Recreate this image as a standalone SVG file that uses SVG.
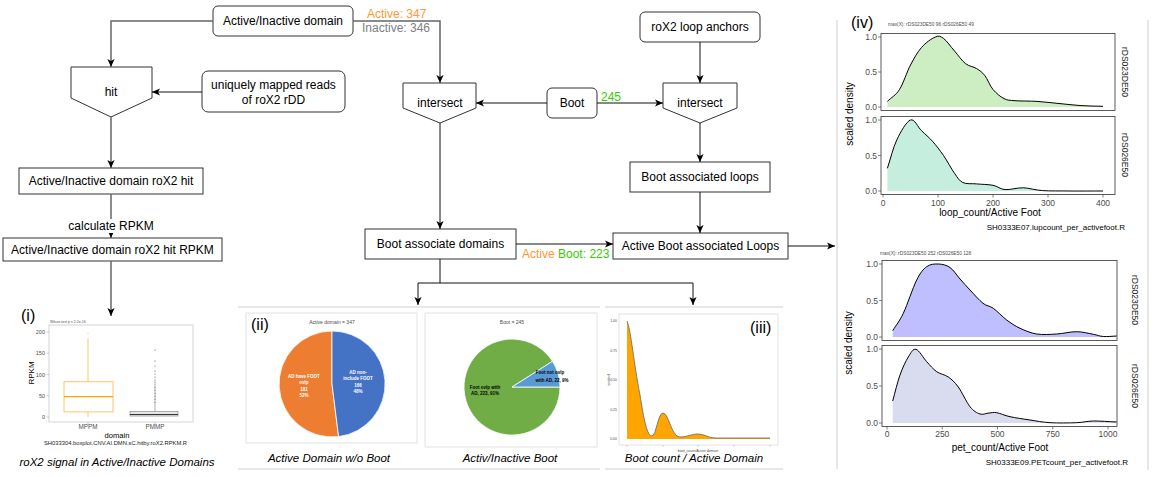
<svg xmlns="http://www.w3.org/2000/svg" width="1157" height="477" viewBox="0 0 1157 477">
<defs>
<style>
.node{fill:#fff;stroke:#333;stroke-width:1}
.lbl{font-family:"Liberation Sans",Arial,sans-serif;font-size:12px;fill:#000;text-anchor:middle;dominant-baseline:central}
.conn{fill:none;stroke:#111;stroke-width:1}
.connG{fill:none;stroke:#666;stroke-width:1.5}
.sep{stroke:#cfcfcf;stroke-width:1;fill:none}
.cap{font-family:"Liberation Sans",Arial,sans-serif;font-size:11.5px;font-style:italic;fill:#000;text-anchor:middle}
.tag{font-family:"Liberation Sans",Arial,sans-serif;font-size:16px;fill:#000}
.t{font-family:"Liberation Sans",Arial,sans-serif;fill:#4d4d4d}
.tk{font-family:"Liberation Sans",Arial,sans-serif;font-size:8.5px;fill:#4d4d4d}
.ax{font-family:"Liberation Sans",Arial,sans-serif;font-size:10px;fill:#000;text-anchor:middle}
.strip{font-family:"Liberation Sans",Arial,sans-serif;font-size:8.5px;fill:#1a1a1a;text-anchor:middle}
.panel{fill:#fff;stroke:#333;stroke-width:0.8}
.curve{fill:none;stroke:#000;stroke-width:1}
.pl{font-family:"Liberation Sans",Arial,sans-serif;font-size:4.5px;font-weight:bold;text-anchor:middle}
</style>
<marker id="arr" viewBox="0 0 10 10" refX="10" refY="5" markerWidth="8" markerHeight="8" markerUnits="userSpaceOnUse" orient="auto"><path d="M0,0.5 L10,5 L0,9.5 L2.5,5 z" fill="#000"/></marker>
</defs>
<rect width="1157" height="477" fill="#fff"/>

<!-- separators -->
<g id="separators">
<line class="sep" x1="238" y1="307" x2="600" y2="307"/>
<line class="sep" x1="605" y1="307" x2="783" y2="307"/>
<line class="sep" x1="238" y1="469" x2="600" y2="469"/>
<line class="sep" x1="605" y1="469" x2="783" y2="469"/>
<line class="sep" x1="837" y1="20" x2="837" y2="469"/>
<line class="sep" x1="1148" y1="20" x2="1148" y2="470"/>
</g>

<!-- nodes -->
<g id="n-active-inactive-domain"><rect class="node" x="213" y="6" width="140" height="30" rx="5"/><text class="lbl" x="283" y="21">Active/Inactive domain</text></g>
<g id="n-hit"><polygon class="node" points="71,67 152,67 152,98 111,117 71,98"/><text class="lbl" x="111" y="92">hit</text></g>
<g id="n-unique-reads"><rect class="node" x="202" y="71" width="143" height="41" rx="6"/><text class="lbl" x="273.5" y="85">uniquely mapped reads</text><text class="lbl" x="273.5" y="99.5">of roX2 rDD</text></g>
<g id="n-domain-hit"><rect class="node" x="19" y="168" width="184" height="26"/><text class="lbl" x="111" y="181">Active/Inactive domain roX2 hit</text></g>
<g id="n-domain-hit-rpkm"><rect class="node" x="3" y="238" width="219" height="23"/><text class="lbl" x="112.5" y="249.5">Active/Inactive domain roX2 hit RPKM</text></g>
<g id="n-intersect-left"><polygon class="node" points="403,83 476,83 476,108 440,123 403,108"/><text class="lbl" x="440" y="103">intersect</text></g>
<g id="n-boot"><rect class="node" x="547" y="88" width="50" height="30" rx="5"/><text class="lbl" x="572" y="103">Boot</text></g>
<g id="n-loop-anchors"><rect class="node" x="640" y="12" width="120" height="30" rx="5"/><text class="lbl" x="700" y="27">roX2 loop anchors</text></g>
<g id="n-intersect-right"><polygon class="node" points="663,83 737,83 737,108 700,123 663,108"/><text class="lbl" x="700" y="103">intersect</text></g>
<g id="n-boot-loops"><rect class="node" x="630" y="162" width="140" height="30"/><text class="lbl" x="700" y="177">Boot associated loops</text></g>
<g id="n-active-boot-loops"><rect class="node" x="613" y="233" width="175" height="26"/><text class="lbl" x="700.5" y="246">Active Boot associated Loops</text></g>
<g id="n-boot-domains"><rect class="node" x="365" y="229" width="151" height="30"/><text class="lbl" x="440.5" y="244">Boot associate domains</text></g>

<!-- connectors -->
<g id="connectors">
<path class="connG" d="M213,21 H111 V67" marker-end="url(#arr)"/>
<path class="connG" d="M353,21 H440 V83" marker-end="url(#arr)"/>
<path class="conn" d="M202,92 H152" marker-end="url(#arr)"/>
<path class="connG" d="M111,117 V168" marker-end="url(#arr)"/>
<path class="connG" d="M111,194 V238" marker-end="url(#arr)"/>
<rect x="68" y="219" width="86" height="14" fill="#fff"/>
<text class="lbl" x="111" y="226">calculate RPKM</text>
<path class="connG" d="M111,261 V316" marker-end="url(#arr)"/>
<path class="conn" d="M547,103 H476" marker-end="url(#arr)"/>
<path class="conn" d="M597,103 H663" marker-end="url(#arr)"/>
<path class="conn" d="M700,42 V83" marker-end="url(#arr)"/>
<path class="conn" d="M440,123 V229" marker-end="url(#arr)"/>
<path class="conn" d="M700,123 V162" marker-end="url(#arr)"/>
<path class="conn" d="M700,192 V233" marker-end="url(#arr)"/>
<path class="conn" d="M516,244 H613" marker-end="url(#arr)"/>
<path class="conn" d="M788,246 H835" marker-end="url(#arr)"/>
<path class="conn" d="M440,259 V283 M418,283 H693"/>
<path class="conn" d="M418,283 V305" marker-end="url(#arr)"/>
<path class="conn" d="M693,283 V305" marker-end="url(#arr)"/>
<text x="367" y="17.5" font-family="Liberation Sans, Arial, sans-serif" font-size="12" fill="#FF9933">Active: 347</text>
<text x="362" y="32" font-family="Liberation Sans, Arial, sans-serif" font-size="12" fill="#808080">Inactive: 346</text>
<text x="601" y="100.5" font-family="Liberation Sans, Arial, sans-serif" font-size="12" fill="#33CC00">245</text>
<text x="522" y="257.5" font-family="Liberation Sans, Arial, sans-serif" font-size="12"><tspan fill="#FF9933">Active</tspan><tspan fill="#33CC00"> Boot: 223</tspan></text>
</g>

<!-- (i) boxplot -->
<g id="fig-i">
<text class="tag" x="21" y="321">(i)</text>
<text class="t" x="50" y="323" font-size="3.5">Wilcox.test p &lt; 2.2e-16</text>
<rect x="49" y="325" width="144" height="97" fill="#fff" stroke="#d4d4d4" stroke-width="1"/>
<g class="t" font-size="5.5" text-anchor="end">
<text x="45" y="334">200</text><text x="45" y="355">150</text><text x="45" y="376.5">100</text><text x="45" y="398">50</text><text x="45" y="419">0</text>
</g>
<g stroke="#999" stroke-width="0.5"><line x1="46.5" y1="332" x2="49" y2="332"/><line x1="46.5" y1="353.25" x2="49" y2="353.25"/><line x1="46.5" y1="374.5" x2="49" y2="374.5"/><line x1="46.5" y1="395.75" x2="49" y2="395.75"/><line x1="46.5" y1="417" x2="49" y2="417"/><line x1="88" y1="422" x2="88" y2="424"/><line x1="155" y1="422" x2="155" y2="424"/></g>
<text x="34" y="373" font-family="Liberation Sans, Arial, sans-serif" font-size="8" fill="#000" text-anchor="middle" transform="rotate(-90 34 373)">RPKM</text>
<line x1="88" y1="338.4" x2="88" y2="381.7" stroke="#FFC266" stroke-width="1"/>
<line x1="88" y1="411.9" x2="88" y2="417" stroke="#FFC266" stroke-width="1"/>
<rect x="64" y="381.7" width="49" height="30.2" fill="#fff" stroke="#FFC266" stroke-width="1"/>
<line x1="64" y1="396.6" x2="113" y2="396.6" stroke="#FFA500" stroke-width="1.2"/>
<circle cx="88" cy="333.3" r="0.6" fill="#FFC266"/>
<line x1="155" y1="405" x2="155" y2="411.5" stroke="#999" stroke-width="0.8"/>
<rect x="130" y="411.5" width="48" height="4.5" fill="#e6e6e6" stroke="#999" stroke-width="0.8"/>
<line x1="130" y1="414.5" x2="178" y2="414.5" stroke="#333" stroke-width="1.2"/>
<g fill="#444">
<circle cx="155" cy="404" r="0.55"/><circle cx="155" cy="402.5" r="0.55"/><circle cx="155" cy="401" r="0.55"/><circle cx="155" cy="399.5" r="0.55"/><circle cx="155" cy="398" r="0.55"/><circle cx="155" cy="396.5" r="0.55"/><circle cx="155" cy="395" r="0.55"/><circle cx="155" cy="393.5" r="0.55"/><circle cx="155" cy="392" r="0.55"/><circle cx="155" cy="390.5" r="0.55"/><circle cx="155" cy="389" r="0.55"/><circle cx="155" cy="387.5" r="0.55"/><circle cx="155" cy="386" r="0.55"/><circle cx="155" cy="384" r="0.55"/><circle cx="155" cy="382" r="0.55"/><circle cx="155" cy="380" r="0.55"/><circle cx="155" cy="377" r="0.55"/><circle cx="155" cy="374" r="0.55"/><circle cx="155" cy="371" r="0.55"/><circle cx="155" cy="366" r="0.55"/><circle cx="155" cy="361" r="0.55"/><circle cx="155" cy="350" r="0.55"/>
</g>
<g class="t" font-size="6.3" text-anchor="middle"><text x="88" y="429">MPPM</text><text x="155" y="429">PMMP</text></g>
<text x="117" y="437.5" font-family="Liberation Sans, Arial, sans-serif" font-size="7.6" fill="#000" text-anchor="middle">domain</text>
<text x="115.5" y="445" font-family="Liberation Sans, Arial, sans-serif" font-size="5.8" fill="#222" text-anchor="middle">SH033304.boxplot.CNV.AI.DMN.sC.hitby.roX2.RPKM.R</text>
<text class="cap" x="117" y="466" font-size="12">roX2 signal in Active/Inactive Domains</text>
</g>

<!-- (ii) pies -->
<g id="fig-ii">
<rect x="246" y="313" width="171" height="130" fill="#fff" stroke="#e2e2e2" stroke-width="1"/>
<text class="tag" x="251" y="330">(ii)</text>
<text class="t" x="332" y="323.5" font-size="5" fill="#777" text-anchor="middle">Active domain = 347</text>
<path d="M332,384 L338.6,436.6 A53,53 0 1,1 332,331 Z" fill="#ED7D31" stroke="#fff" stroke-width="0.8"/>
<path d="M332,384 L332,331 A53,53 0 0,1 338.6,436.6 Z" fill="#4472C4" stroke="#fff" stroke-width="0.8"/>
<g class="pl" fill="#fff">
<text x="304" y="378">AD have FOOT</text><text x="304" y="384.3">ovlp</text><text x="304" y="390.6">181</text><text x="304" y="396.9">52%</text>
<text x="358" y="374">AD non-</text><text x="358" y="380.3">include FOOT</text><text x="358" y="386.6">166</text><text x="358" y="392.9">48%</text>
</g>
<rect x="425" y="313" width="172" height="134" fill="#fff" stroke="#e2e2e2" stroke-width="1"/>
<text class="t" x="512" y="323.5" font-size="5" fill="#777" text-anchor="middle">Boot = 245</text>
<path d="M512,387 L552.5,361.3 A48,48 0 1,0 560,387 Z" fill="#70AD47" stroke="#fff" stroke-width="0.8"/>
<path d="M512,387 L560,387 A48,48 0 0,0 552.5,361.3 Z" fill="#5B9BD5" stroke="#fff" stroke-width="0.8"/>
<g class="pl" fill="#000">
<text x="550" y="374">Foot not ovlp</text><text x="552" y="381.5">with AD, 22, 9%</text>
<text x="485" y="389">Foot ovlp with</text><text x="485" y="395">AD, 223, 91%</text>
</g>
<text class="cap" x="329" y="462">Active Domain w/o Boot</text>
<text class="cap" x="510" y="462">Activ/Inactive Boot</text>
</g>

<!-- (iii) density -->
<g id="fig-iii">
<rect x="619" y="314" width="159" height="131" fill="#fff" stroke="#e2e2e2" stroke-width="1"/>
<path d="M627,439 L627,321 C631,330 634,365 640,395 C644,420 647,436 652,436 C656,436 658,413 663,413 C668,413 671,432 677,436 C683,439 690,434 698,434 C705,434 708,438 715,438 L770,438 L770,439 Z" fill="#FFA500"/>
<path d="M627,321 C631,330 634,365 640,395 C644,420 647,436 652,436 C656,436 658,413 663,413 C668,413 671,432 677,436 C683,439 690,434 698,434 C705,434 708,438 715,438 L770,438" fill="none" stroke="#666" stroke-width="0.8"/>
<g class="t" font-size="3.5" text-anchor="end"><text x="617" y="322">1.00</text><text x="617" y="352">0.75</text><text x="617" y="381">0.50</text><text x="617" y="411">0.25</text><text x="617" y="440">0.00</text></g>
<g stroke="#999" stroke-width="0.4"><line x1="627" y1="445" x2="627" y2="447"/><line x1="663" y1="445" x2="663" y2="447"/><line x1="698" y1="445" x2="698" y2="447"/><line x1="734" y1="445" x2="734" y2="447"/><line x1="770" y1="445" x2="770" y2="447"/></g>
<text class="t" x="610" y="380" font-size="4" text-anchor="middle" transform="rotate(-90 610 380)">scaled</text>
<text class="t" x="698" y="452" font-size="3.5" text-anchor="middle">boot_count/Active domain</text>
<text class="tag" x="750" y="333" font-size="15">(iii)</text>
<text class="cap" x="694" y="462">Boot count / Active Domain</text>
</g>

<!-- (iv) densities -->
<g id="fig-iv">
<text class="tag" x="851" y="28">(iv)</text>
<text class="t" x="888" y="26" font-size="4.8" fill="#333">max(X): rDS023DE50 96 rDS026E50 49</text>
<rect class="panel" x="881" y="33.5" width="234" height="77"/>
<rect class="panel" x="881" y="116.5" width="234" height="78"/>
<path d="M887.4,101.4 C891.4,97.4 895.65,95.57 899.5,89.5 S906.8,72 910.5,65 S917.4,52.2 921.5,47.5 S931.6,38.5 935.3,37 S940.3,36.1 943.5,38.4 S950.8,46.8 954.5,51 S961.8,60.7 965.5,63.6 S973.3,66.5 976.5,68.5 S982.1,72 984.8,75.5 S989.8,85.65 993,89.5 S1000.3,96.7 1004,98.6 S1009.5,100.2 1015,100.7 S1029.7,100.9 1037,101.4 S1051.7,102.8 1059,103.5 S1073.7,105.1 1081,105.6 S1095.7,106.1 1103,106.3 L1103,107 L887.4,107 Z" fill="#CDEDC3"/>
<path class="curve" d="M887.4,101.4 C891.4,97.4 895.65,95.57 899.5,89.5 S906.8,72 910.5,65 S917.4,52.2 921.5,47.5 S931.6,38.5 935.3,37 S940.3,36.1 943.5,38.4 S950.8,46.8 954.5,51 S961.8,60.7 965.5,63.6 S973.3,66.5 976.5,68.5 S982.1,72 984.8,75.5 S989.8,85.65 993,89.5 S1000.3,96.7 1004,98.6 S1009.5,100.2 1015,100.7 S1029.7,100.9 1037,101.4 S1051.7,102.8 1059,103.5 S1073.7,105.1 1081,105.6 S1095.7,106.1 1103,106.3"/>
<path d="M887.4,168.3 C890.5,158.8 893,147.95 896.8,139.9 S906.4,121.5 910.5,120 S917.8,127.15 921.5,130.7 S928.8,137.2 932.5,141.3 S939.8,150.2 943.5,155.5 S951.3,168.8 954.5,173.3 S959.1,180.7 962.8,182.5 S971.5,183.4 976.5,183.9 S988.2,184.35 993,185.3 S1000,189.2 1005.1,189.6 S1017.1,187.6 1023.3,187.8 S1034.7,190.1 1042.5,190.6 S1059.9,190.9 1070,191 S1092,191 1103,191 L887.4,191 Z" fill="#C5EEDF"/>
<path class="curve" d="M887.4,168.3 C890.5,158.8 893,147.95 896.8,139.9 S906.4,121.5 910.5,120 S917.8,127.15 921.5,130.7 S928.8,137.2 932.5,141.3 S939.8,150.2 943.5,155.5 S951.3,168.8 954.5,173.3 S959.1,180.7 962.8,182.5 S971.5,183.4 976.5,183.9 S988.2,184.35 993,185.3 S1000,189.2 1005.1,189.6 S1017.1,187.6 1023.3,187.8 S1034.7,190.1 1042.5,190.6 S1059.9,190.9 1070,191 S1092,191 1103,191"/>
<g class="tk" text-anchor="end">
<text x="877" y="40">1.0</text><text x="877" y="75">0.5</text><text x="877" y="110">0.0</text>
<text x="877" y="123">1.0</text><text x="877" y="158.5">0.5</text><text x="877" y="194">0.0</text>
</g>
<g stroke="#333" stroke-width="0.6">
<line x1="878" y1="37" x2="881" y2="37"/><line x1="878" y1="72" x2="881" y2="72"/><line x1="878" y1="107" x2="881" y2="107"/>
<line x1="878" y1="120" x2="881" y2="120"/><line x1="878" y1="155.5" x2="881" y2="155.5"/><line x1="878" y1="191" x2="881" y2="191"/>
<line x1="883" y1="194.5" x2="883" y2="197.5"/><line x1="938" y1="194.5" x2="938" y2="197.5"/><line x1="993" y1="194.5" x2="993" y2="197.5"/><line x1="1048" y1="194.5" x2="1048" y2="197.5"/><line x1="1103" y1="194.5" x2="1103" y2="197.5"/>
</g>
<g class="tk" text-anchor="middle"><text x="883" y="205.5">0</text><text x="938" y="205.5">100</text><text x="993" y="205.5">200</text><text x="1048" y="205.5">300</text><text x="1103" y="205.5">400</text></g>
<text class="ax" x="853" y="114" transform="rotate(-90 853 114)">scaled density</text>
<text class="ax" x="990" y="216" font-size="9.5">loop_count/Active Foot</text>
<text x="1125" y="230" font-family="Liberation Sans, Arial, sans-serif" font-size="8" fill="#000" text-anchor="end">SH0333E07.lupcount_per_activefoot.R</text>
<text class="strip" x="1122" y="72" transform="rotate(90 1122 72)">rDS023DE50</text>
<text class="strip" x="1122" y="155" transform="rotate(90 1122 155)">rDS026E50</text>

<text class="t" x="880" y="255" font-size="4.8" fill="#333">max(X): rDS023DE50 252 rDS026E50 128</text>
<rect class="panel" x="882" y="260.5" width="235" height="80"/>
<rect class="panel" x="882" y="345.5" width="235" height="81"/>
<path d="M892.7,330.7 C896.2,324.9 899.3,321.75 903.3,313.3 S912.8,287.8 916.7,280 S923.1,269.4 926.7,266.7 S934.4,263.9 938.3,264 S946.4,265 950,267.5 S956.7,275.25 960,279 S966.2,285.95 970,290 S979.1,300.25 983,303.3 S989.35,305.5 993.3,308.3 S1002.25,316.7 1006.7,320 S1015,326 1020,328.3 S1030.6,333.05 1036.7,334 S1050,334.4 1056.7,334 S1070.6,331.65 1076.7,331.7 S1088.9,333.5 1093.3,334.3 S1099.4,336.2 1103.3,336.5 S1112.2,336.2 1116.7,336 L1116.7,337 L892.7,337 Z" fill="#BFBFFF"/>
<path class="curve" d="M892.7,330.7 C896.2,324.9 899.3,321.75 903.3,313.3 S912.8,287.8 916.7,280 S923.1,269.4 926.7,266.7 S934.4,263.9 938.3,264 S946.4,265 950,267.5 S956.7,275.25 960,279 S966.2,285.95 970,290 S979.1,300.25 983,303.3 S989.35,305.5 993.3,308.3 S1002.25,316.7 1006.7,320 S1015,326 1020,328.3 S1030.6,333.05 1036.7,334 S1050,334.4 1056.7,334 S1070.6,331.65 1076.7,331.7 S1088.9,333.5 1093.3,334.3 S1099.4,336.2 1103.3,336.5 S1112.2,336.2 1116.7,336"/>
<path d="M892.7,401 C895.1,392.3 897.4,382.3 900,375 S905.6,361.3 908.3,357 S912.9,348.5 916,349.3 S923.25,357.95 926.7,361.7 S933.1,369.15 936.7,371.7 S944.7,374.45 948.3,377 S954.7,382.05 958.3,387 S966.4,402.2 970,406.7 S976.8,412.95 980,414 S986.2,413.2 989,413 S993.2,412.1 996.7,412.7 S1004.45,415.5 1010,416.7 S1023.3,419 1030,420 S1042.2,422.25 1050,422.7 S1069.5,423 1076.7,422.7 S1086.6,421.1 1093.3,421 S1108.9,421.7 1116.7,422 L1116.7,423 L892.7,423 Z" fill="#D9DBEE"/>
<path class="curve" d="M892.7,401 C895.1,392.3 897.4,382.3 900,375 S905.6,361.3 908.3,357 S912.9,348.5 916,349.3 S923.25,357.95 926.7,361.7 S933.1,369.15 936.7,371.7 S944.7,374.45 948.3,377 S954.7,382.05 958.3,387 S966.4,402.2 970,406.7 S976.8,412.95 980,414 S986.2,413.2 989,413 S993.2,412.1 996.7,412.7 S1004.45,415.5 1010,416.7 S1023.3,419 1030,420 S1042.2,422.25 1050,422.7 S1069.5,423 1076.7,422.7 S1086.6,421.1 1093.3,421 S1108.9,421.7 1116.7,422"/>
<g class="tk" text-anchor="end">
<text x="878" y="267">1.0</text><text x="878" y="303.5">0.5</text><text x="878" y="340">0.0</text>
<text x="878" y="352">1.0</text><text x="878" y="389">0.5</text><text x="878" y="426">0.0</text>
</g>
<g stroke="#333" stroke-width="0.6">
<line x1="879" y1="264" x2="882" y2="264"/><line x1="879" y1="300.5" x2="882" y2="300.5"/><line x1="879" y1="337" x2="882" y2="337"/>
<line x1="879" y1="349" x2="882" y2="349"/><line x1="879" y1="386" x2="882" y2="386"/><line x1="879" y1="423" x2="882" y2="423"/>
<line x1="887" y1="426.5" x2="887" y2="429.5"/><line x1="942.25" y1="426.5" x2="942.25" y2="429.5"/><line x1="997.5" y1="426.5" x2="997.5" y2="429.5"/><line x1="1052.75" y1="426.5" x2="1052.75" y2="429.5"/><line x1="1108" y1="426.5" x2="1108" y2="429.5"/>
</g>
<g class="tk" text-anchor="middle"><text x="887" y="437">0</text><text x="942.25" y="437">250</text><text x="997.5" y="437">500</text><text x="1052.75" y="437">750</text><text x="1108" y="437">1000</text></g>
<text class="ax" x="852" y="343" transform="rotate(-90 852 343)">scaled density</text>
<text class="ax" x="1000" y="451" font-size="9.5">pet_count/Active Foot</text>
<text x="1128" y="465" font-family="Liberation Sans, Arial, sans-serif" font-size="8" fill="#000" text-anchor="end">SH0333E09.PETcount_per_activefoot.R</text>
<text class="strip" x="1132" y="300" transform="rotate(90 1132 300)">rDS023DE50</text>
<text class="strip" x="1132" y="386" transform="rotate(90 1132 386)">rDS026E50</text>
</g>
</svg>
